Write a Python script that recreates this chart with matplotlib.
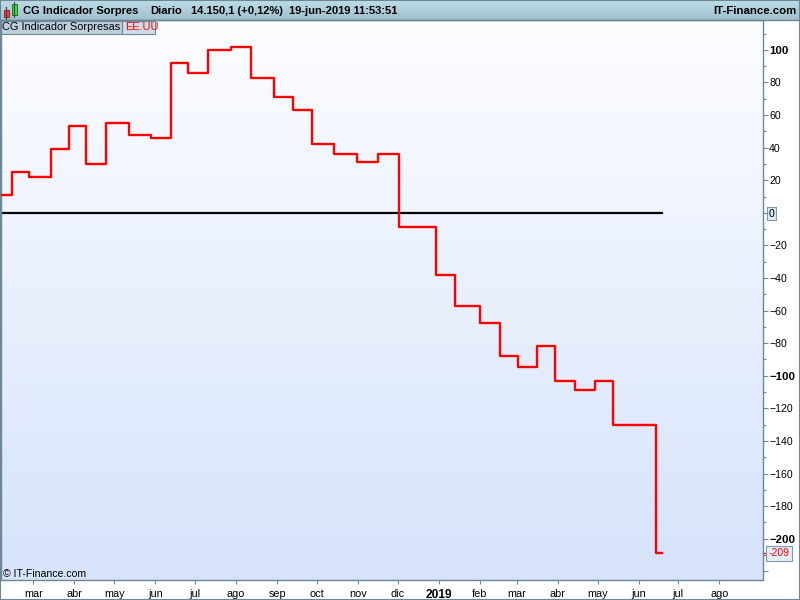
import matplotlib
matplotlib.use("Agg")
import matplotlib.pyplot as plt
import matplotlib.dates as mdates
from matplotlib.patches import Rectangle
from matplotlib.lines import Line2D
from matplotlib.colors import LinearSegmentedColormap
from matplotlib.ticker import MultipleLocator, FixedLocator, FixedFormatter
import numpy as np
import pandas as pd

plt.rcParams['font.family'] = ['Liberation Sans', 'DejaVu Sans']

# datos del indicador (escalones)
step_dates = ['2018-02-04', '2018-02-13', '2018-02-26', '2018-03-14', '2018-03-28',
              '2018-04-10', '2018-04-25', '2018-05-12', '2018-05-29', '2018-06-13',
              '2018-06-26', '2018-07-11', '2018-07-28', '2018-08-12', '2018-08-30',
              '2018-09-13', '2018-09-27', '2018-10-14', '2018-10-31', '2018-11-16',
              '2018-12-02', '2018-12-30', '2019-01-13', '2019-02-01', '2019-02-16',
              '2019-03-02', '2019-03-16', '2019-03-30', '2019-04-14', '2019-04-29',
              '2019-05-13', '2019-06-14']
step_values = [11, 25, 22, 39, 53.5,
               30, 55, 48, 46, 92,
               85.5, 100, 102, 83, 71,
               63, 42.5, 36, 31, 36,
               -9, -38, -57, -67.5, -88,
               -94.5, -82, -103, -108.5, -103,
               -130.5, -209]
end_date = '2019-06-19'
last_label = '-209'

month_ticks = ['2018-03-01', '2018-04-01', '2018-05-01', '2018-06-01', '2018-07-01',
               '2018-08-01', '2018-09-01', '2018-10-01', '2018-11-01', '2018-12-01',
               '2019-01-01', '2019-02-01', '2019-03-01', '2019-04-01', '2019-05-01',
               '2019-06-01', '2019-07-01', '2019-08-01']
month_labels = ['mar', 'abr', 'may', 'jun', 'jul', 'ago', 'sep', 'oct', 'nov', 'dic',
                '2019', 'feb', 'mar', 'abr', 'may', 'jun', 'jul', 'ago']

W, H = 800, 600
def fx(x):
    return x / W
def fy(y):
    return 1 - y / H

fig = plt.figure(figsize=(8, 6), dpi=100, facecolor='white')
border = '#6d8796'

# cabecera
hdr = fig.add_axes([0, fy(20), 1, 20 / H])
hcmap = LinearSegmentedColormap.from_list('h', ['#bcdce8', '#9fc0cc'])
hdr.imshow(np.linspace(0, 1, 50).reshape(-1, 1), cmap=hcmap, aspect='auto',
           extent=[0, 1, 0, 1])
hdr.set_xlim(0, 1); hdr.set_ylim(0, 1)
hdr.axis('off')

# zona del grafico
ax = fig.add_axes([fx(0.5), fy(580), 762 / W, 560 / H])
pcmap = LinearSegmentedColormap.from_list('p', ['#d6e3fb', '#fcfdff'])
ax.imshow(np.linspace(0, 1, 100).reshape(-1, 1), cmap=pcmap, aspect='auto',
          extent=[0, 1, 0, 1], transform=ax.transAxes, origin='lower', zorder=0)

x = pd.to_datetime(step_dates + [end_date])
y = step_values + [step_values[-1]]
ax.plot([x[0], x[-1]], [0, 0], color='black', lw=1.6, zorder=2)
ax.plot(x, y, drawstyle='steps-post', color='#ff0000', lw=1.7, zorder=3)

ax.set_xlim(pd.Timestamp('2018-02-04 03:00'), pd.Timestamp('2019-09-02 14:00'))
ax.set_ylim(-225.3, 118.3)

for s in ax.spines.values():
    s.set_color(border)
    s.set_linewidth(1.0)

# eje y a la derecha
ax.yaxis.tick_right()
ax.yaxis.set_major_locator(MultipleLocator(20))
ax.yaxis.set_minor_locator(MultipleLocator(10))
ax.tick_params(axis='y', which='major', length=3.5, width=0.8, color=border,
               labelsize=7.6, pad=1.2, direction='out')
ax.tick_params(axis='y', which='minor', length=2, width=0.8, color=border,
               direction='out')

# eje x
ax.xaxis.set_major_locator(FixedLocator(mdates.date2num(pd.to_datetime(month_ticks))))
ax.xaxis.set_major_formatter(FixedFormatter(month_labels))
ax.tick_params(axis='x', which='major', length=3, width=0.8, color=border,
               labelsize=7.8, pad=3.2, direction='out')

fig.canvas.draw()
for lab in ax.get_yticklabels():
    t = lab.get_text().replace('\u2212', '-')
    if t in ('100', '-100', '-200'):
        lab.set_fontweight('bold')
        lab.set_fontsize(8.2)
    if t == '0':
        lab.set_bbox(dict(boxstyle='square,pad=0.15', fc='#dfeaf7', ec='#7f98a8', lw=0.8))
    if t == '-220':
        lab.set_visible(False)
for lab in ax.get_xticklabels():
    if lab.get_text() == '2019':
        lab.set_fontweight('bold')
        lab.set_fontsize(8.6)

# etiqueta del ultimo valor
ax.annotate(last_label, xy=(1, step_values[-1]), xycoords=('axes fraction', 'data'),
            xytext=(4.3, 0), textcoords='offset points', va='center', ha='left',
            color='#ff0000', fontsize=7.6, annotation_clip=False,
            bbox=dict(boxstyle='square,pad=0.2', fc='#e4eefa', ec='#7f98a8', lw=0.8))
ax.plot([1, 1.005], [step_values[-1]] * 2, color='#ff0000', lw=1,
        transform=ax.get_yaxis_transform(), clip_on=False)

# textos de cabecera
hfont = dict(fontsize=8.0, fontweight='bold', va='center', ha='left')
fig.text(fx(23), fy(10.5), 'CG Indicador Sorpres', **hfont)
fig.text(fx(150), fy(10.5), 'Diario', **hfont)
fig.text(fx(191), fy(10.5), '14.150,1 (+0,12%)', **hfont)
fig.text(fx(289), fy(10.5), '19-jun-2019 11:53:51', **hfont)
fig.text(fx(797), fy(10.5), 'IT-Finance.com', fontsize=8.2, fontweight='bold',
         va='center', ha='right')

# icono de velas
fig.add_artist(Line2D([fx(6), fx(6)], [fy(7), fy(19)], color='#7a2020', lw=0.8))
fig.add_artist(Rectangle((fx(3.5), fy(17)), 5 / W, 7 / H, fc='#e84848', ec='#7a2020', lw=0.6))
fig.add_artist(Line2D([fx(14), fx(14)], [fy(2), fy(17)], color='#206020', lw=0.8))
fig.add_artist(Rectangle((fx(11.5), fy(15)), 5 / W, 11 / H, fc='#48d048', ec='#206020', lw=0.6))

# leyenda
fig.add_artist(Rectangle((fx(0.5), fy(33.5)), 121.5 / W, 13 / H, fc='#bccfdb', ec=border, lw=0.8))
fig.add_artist(Rectangle((fx(122), fy(33.5)), 33 / W, 13 / H, fc='#cddde8', ec=border, lw=0.8))
fig.text(fx(2.5), fy(27.3), 'CG Indicador Sorpresas', fontsize=7.9, va='center', ha='left')
fig.text(fx(125), fy(27.3), 'EE.UU', fontsize=7.9, va='center', ha='left', color='#ff0000')

fig.text(fx(3), fy(574), '\u00a9 IT-Finance.com', fontsize=7.6, va='center', ha='left')

# marco exterior
fig.add_artist(Rectangle((0, 0), 1, 1, fill=False, ec=border, lw=1.5,
                         transform=fig.transFigure))
fig.add_artist(Line2D([0, 1], [fy(20), fy(20)], color=border, lw=1.0))

fig.savefig('out.png', dpi=100)
